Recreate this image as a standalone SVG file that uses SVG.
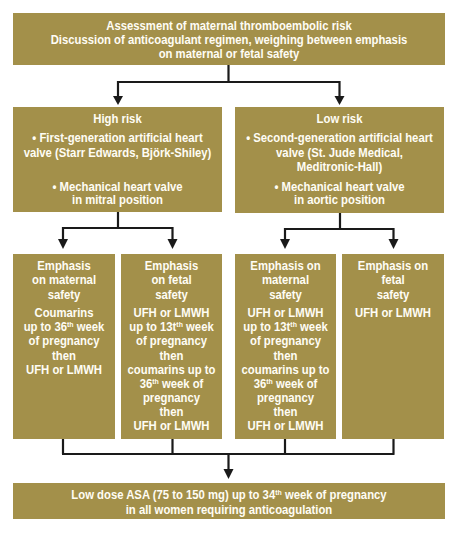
<svg xmlns="http://www.w3.org/2000/svg" width="459" height="534" viewBox="0 0 459 534">
<defs>
<style>
.box{fill:#a3904a;}
.t{font-family:"Liberation Sans",Arial,sans-serif;font-weight:bold;font-size:13px;fill:#fffdf5;text-anchor:middle;}
.sup{font-size:8px;}
.ln{stroke:#1a1a1a;stroke-width:2.2;fill:none;}
.ah{fill:#1a1a1a;}
</style>
</defs>
<rect width="459" height="534" fill="#ffffff"/>
<g id="connectors">
<path class="ln" d="M228.5,65 V82 M118,82 H339.5"/>
<path class="ln" d="M118,81 V98"/>
<path class="ln" d="M339.5,81 V98"/>
<polygon class="ah" points="113,96 123,96 118,105"/>
<polygon class="ah" points="334.5,96 344.5,96 339.5,105"/>
<path class="ln" d="M118,212 V228 M63,228 H172.5 M63,227 V240 M172.5,227 V240"/>
<polygon class="ah" points="58,239 68,239 63,249"/>
<polygon class="ah" points="167.5,239 177.5,239 172.5,249"/>
<path class="ln" d="M340,213 V229 M285,229 H393.5 M285,228 V240 M393.5,228 V240"/>
<polygon class="ah" points="280,239 290,239 285,249"/>
<polygon class="ah" points="388.5,239 398.5,239 393.5,249"/>
<path class="ln" d="M63,439 V454 M172.5,439 V454 M285,439 V454 M393.5,439 V454 M62,454 H394.5 M228.5,454 V470"/>
<polygon class="ah" points="223.5,469 233.5,469 228.5,479"/>
</g>
<g id="top">
<rect class="box" x="13" y="13" width="432" height="52"/>
<g transform="translate(229,0) scale(0.87,1)">
<text class="t" x="0" y="30.5">Assessment of maternal thromboembolic risk</text>
<text class="t" x="0" y="44.5">Discussion of anticoagulant regimen, weighing between emphasis</text>
<text class="t" x="0" y="58.5">on maternal or fetal safety</text>
</g>
</g>
<g id="high-risk">
<rect class="box" x="13" y="107" width="209" height="105"/>
<g transform="translate(117.5,0) scale(0.87,1)">
<text class="t" x="0" y="123.5">High risk</text>
<text class="t" x="0" y="142.5">• First-generation artificial heart</text>
<text class="t" x="0" y="157">valve (Starr Edwards, Björk-Shiley)</text>
<text class="t" x="0" y="191">• Mechanical heart valve</text>
<text class="t" x="0" y="204.5">in mitral position</text>
</g>
</g>
<g id="low-risk">
<rect class="box" x="235" y="107" width="209" height="106"/>
<g transform="translate(339.5,0) scale(0.87,1)">
<text class="t" x="0" y="123.5">Low risk</text>
<text class="t" x="0" y="142.5">• Second-generation artificial heart</text>
<text class="t" x="0" y="157">valve (St. Jude Medical,</text>
<text class="t" x="0" y="171">Meditronic-Hall)</text>
<text class="t" x="0" y="191">• Mechanical heart valve</text>
<text class="t" x="0" y="204.5">in aortic position</text>
</g>
</g>
<g id="high-maternal">
<rect class="box" x="13" y="254" width="102" height="185"/>
<g transform="translate(64,0) scale(0.87,1)">
<text class="t" x="0" y="270.5">Emphasis</text>
<text class="t" x="0" y="284.5">on maternal</text>
<text class="t" x="0" y="299">safety</text>
<text class="t" x="0" y="317.5">Coumarins</text>
<text class="t" x="0" y="331.5">up to 36<tspan class="sup" dy="-4">th</tspan><tspan dy="4"> week</tspan></text>
<text class="t" x="0" y="345.5">of pregnancy</text>
<text class="t" x="0" y="360">then</text>
<text class="t" x="0" y="374">UFH or LMWH</text>
</g>
</g>
<g id="high-fetal">
<rect class="box" x="121" y="254" width="101" height="185"/>
<g transform="translate(171.5,0) scale(0.87,1)">
<text class="t" x="0" y="270.5">Emphasis</text>
<text class="t" x="0" y="284.5">on fetal</text>
<text class="t" x="0" y="299">safety</text>
<text class="t" x="0" y="317.5">UFH or LMWH</text>
<text class="t" x="0" y="331.5">up to 13t<tspan class="sup" dy="-4">th</tspan><tspan dy="4"> week</tspan></text>
<text class="t" x="0" y="345.5">of pregnancy</text>
<text class="t" x="0" y="360">then</text>
<text class="t" x="0" y="374">coumarins up to</text>
<text class="t" x="0" y="388.5">36<tspan class="sup" dy="-4">th</tspan><tspan dy="4"> week of</tspan></text>
<text class="t" x="0" y="402.5">pregnancy</text>
<text class="t" x="0" y="416.5">then</text>
<text class="t" x="0" y="430.5">UFH or LMWH</text>
</g>
</g>
<g id="low-maternal">
<rect class="box" x="235" y="254" width="101" height="185"/>
<g transform="translate(285.5,0) scale(0.87,1)">
<text class="t" x="0" y="270.5">Emphasis on</text>
<text class="t" x="0" y="284.5">maternal</text>
<text class="t" x="0" y="299">safety</text>
<text class="t" x="0" y="317.5">UFH or LMWH</text>
<text class="t" x="0" y="331.5">up to 13t<tspan class="sup" dy="-4">th</tspan><tspan dy="4"> week</tspan></text>
<text class="t" x="0" y="345.5">of pregnancy</text>
<text class="t" x="0" y="360">then</text>
<text class="t" x="0" y="374">coumarins up to</text>
<text class="t" x="0" y="388.5">36<tspan class="sup" dy="-4">th</tspan><tspan dy="4"> week of</tspan></text>
<text class="t" x="0" y="402.5">pregnancy</text>
<text class="t" x="0" y="416.5">then</text>
<text class="t" x="0" y="430.5">UFH or LMWH</text>
</g>
</g>
<g id="low-fetal">
<rect class="box" x="342" y="254" width="102" height="185"/>
<g transform="translate(393,0) scale(0.87,1)">
<text class="t" x="0" y="270.5">Emphasis on</text>
<text class="t" x="0" y="284.5">fetal</text>
<text class="t" x="0" y="299">safety</text>
<text class="t" x="0" y="317.5">UFH or LMWH</text>
</g>
</g>
<g id="bottom">
<rect class="box" x="13" y="483" width="432" height="36"/>
<g transform="translate(229,0) scale(0.87,1)">
<text class="t" x="0" y="499.5">Low dose ASA (75 to 150 mg) up to 34<tspan class="sup" dy="-4">th</tspan><tspan dy="4"> week of pregnancy</tspan></text>
<text class="t" x="0" y="513.5">in all women requiring anticoagulation</text>
</g>
</g>
</svg>
